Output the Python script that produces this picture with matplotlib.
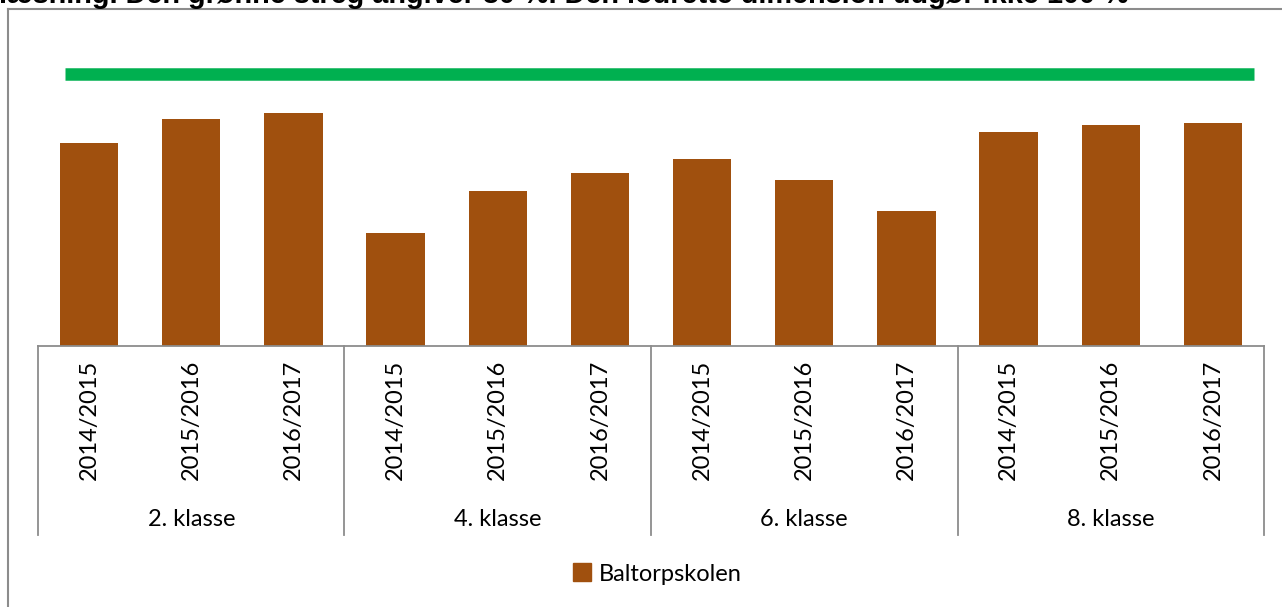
import matplotlib
matplotlib.use("Agg")
import matplotlib.pyplot as plt
from matplotlib.lines import Line2D
from matplotlib.patches import Patch
import matplotlib.transforms as mtransforms
import numpy as np

# ---- data ----
groups = ["2. klasse", "4. klasse", "6. klasse", "8. klasse"]
years = ["2014/2015", "2015/2016", "2016/2017"]
values = [59.7, 66.8, 68.5, 33.2, 45.6, 50.9, 55.0, 48.8, 39.7, 62.9, 65.0, 65.6]
target = 80
series_name = "Baltorpskolen"
title = "læsning. Den grønne streg angiver 80 %. Den lodrette dimension udgør ikke 100 %"

W, H = 1282, 607
fig = plt.figure(figsize=(W / 100, H / 100), dpi=100)

bar_color = "#A0500E"
green = "#00B050"
grey = "#8C8C8C"
font = "Lato"

ax_left, ax_right, ax_bottom, ax_top = 38, 1264, 346, 20
ax = fig.add_axes([ax_left / W, 1 - ax_bottom / H, (ax_right - ax_left) / W, (ax_bottom - ax_top) / H])

n = len(values)
x = np.arange(n)
ax.bar(x, values, width=0.57, color=bar_color, zorder=2)
ax.hlines(target, -0.24, n - 0.6, color=green, linewidth=9, zorder=3)
ax.set_xlim(-0.5, n - 0.5)
ax.set_ylim(0, 95.9)

for s in ["top", "right", "left"]:
    ax.spines[s].set_visible(False)
ax.spines["bottom"].set_color(grey)
ax.spines["bottom"].set_linewidth(1.3)
ax.set_yticks([])
ax.set_xticks(x)
ax.set_xticklabels(years * len(groups), rotation=90, fontsize=17, family=font, va="top")
ax.tick_params(axis="x", length=0, pad=10)

trans = mtransforms.blended_transform_factory(ax.transData, ax.transAxes)
ybottom = -(535 - 346) / (ax_bottom - ax_top)
ng = len(years)
for g in range(len(groups) + 1):
    xs = g * ng - 0.5
    ax.add_line(Line2D([xs, xs], [0, ybottom], transform=trans, color=grey, lw=1.3, clip_on=False))
for g, name in enumerate(groups):
    xc = g * ng + (ng - 1) / 2
    ax.text(xc, -(519 - 346) / (ax_bottom - ax_top), name, transform=trans, ha="center", va="center",
            fontsize=17, family=font)

# legend
fig.legend(handles=[Patch(color=bar_color, label=series_name)], loc="center",
           bbox_to_anchor=(657 / W, 1 - 574 / H), frameon=False, prop={"family": font, "size": 17},
           handlelength=0.8, handleheight=0.8, handletextpad=0.3)

# outer chart frame
fig.add_artist(Line2D([8 / W, 8 / W], [0, 1 - 9 / H], color=grey, lw=1.5))
fig.add_artist(Line2D([8 / W, 1.0], [1 - 9 / H, 1 - 9 / H], color=grey, lw=1.5))

# clipped title (cut off at the top edge, as in the source)
fig.text(-1 / W, 1 - 3 / H, title, fontsize=20.8, fontweight="bold", family="Liberation Sans",
         ha="left", va="baseline")

fig.savefig("out.png", dpi=100)
